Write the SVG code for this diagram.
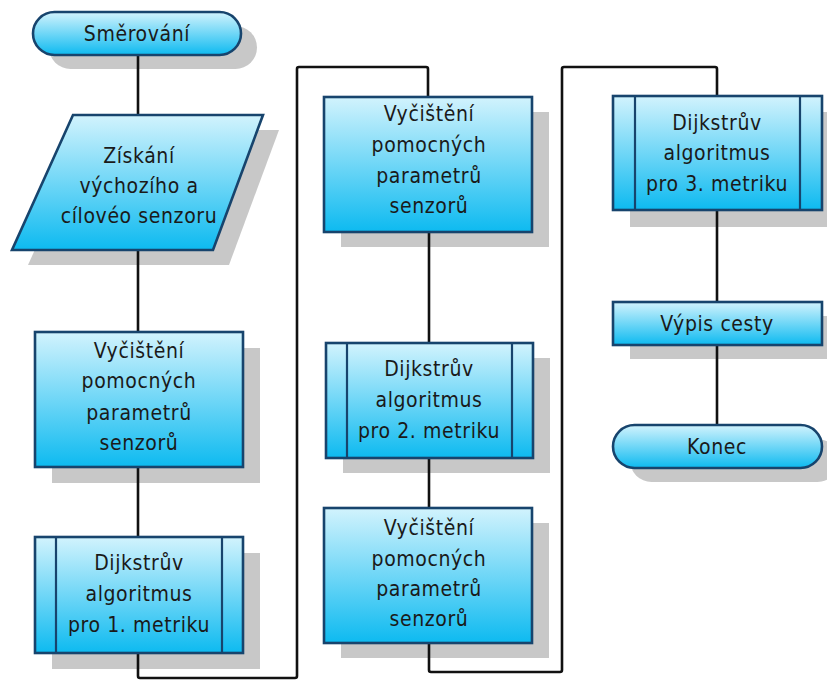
<svg xmlns="http://www.w3.org/2000/svg" width="827" height="680" viewBox="0 0 827 680">
<defs>
<linearGradient id="g" x1="0" y1="0" x2="0" y2="1">
<stop offset="0" stop-color="#d2f3fd"/>
<stop offset="1" stop-color="#0dbaf0"/>
</linearGradient>
<style>
.sh{fill:#c8c8c8;stroke:none}
.n{fill:url(#g);stroke:#17446d;stroke-width:2.6}
.b{fill:none;stroke:#17446d;stroke-width:2.2}
.t{font-family:"DejaVu Sans Condensed","Liberation Sans",sans-serif;font-size:21px;fill:#1a1a1a;text-anchor:middle;letter-spacing:0.6px}
.c{fill:none;stroke:#111;stroke-width:2.6;stroke-linejoin:round}
</style>
</defs>
<rect width="827" height="680" fill="#fff"/>
<g id="shadows">
<rect class="sh" x="49" y="26" width="208" height="43" rx="21.5"/>
<polygon class="sh" points="89,130 279,130 229,265 28,265"/>
<rect class="sh" x="52" y="348" width="208" height="135"/>
<rect class="sh" x="52" y="553" width="208" height="116"/>
<rect class="sh" x="341" y="112" width="208" height="135"/>
<rect class="sh" x="343" y="358" width="207" height="115"/>
<rect class="sh" x="341" y="523" width="208" height="135"/>
<rect class="sh" x="630" y="112" width="209" height="115"/>
<rect class="sh" x="630" y="316" width="209" height="43"/>
<rect class="sh" x="630" y="439" width="209" height="43" rx="21.5"/>
</g>
<g id="connectors">
<path class="c" d="M138,55V115"/>
<path class="c" d="M138,250V332"/>
<path class="c" d="M138,467V537"/>
<path class="c" d="M138,653V676Q138,678 140,678H295Q297,678 297,676V69Q297,67 299,67H426Q428,67 428,69V97"/>
<path class="c" d="M429,232V343"/>
<path class="c" d="M429,458V508"/>
<path class="c" d="M429,643V670Q429,672 431,672H560Q562,672 562,670V69Q562,67 564,67H715Q717,67 717,69V96"/>
<path class="c" d="M717,210V302"/>
<path class="c" d="M717,345V425"/>
</g>
<g id="smerovani">
<rect class="n" x="33" y="12" width="208" height="43" rx="21.5"/>
<text class="t" x="137" y="41">Směrování</text>
</g>
<g id="ziskani">
<polygon class="n" points="73,115 263,115 213,250 12,250"/>
<text class="t" x="139" y="163">Získání</text>
<text class="t" x="139" y="193">výchozího a</text>
<text class="t" x="139" y="223">cílovéo senzoru</text>
</g>
<g id="vycisteni1">
<rect class="n" x="35" y="332" width="208" height="135"/>
<text class="t" x="139" y="358">Vyčištění</text>
<text class="t" x="139" y="388">pomocných</text>
<text class="t" x="139" y="420">parametrů</text>
<text class="t" x="139" y="450">senzorů</text>
</g>
<g id="dijkstra1">
<rect class="n" x="35" y="537" width="208" height="116"/>
<path class="b" d="M56,537V653M222,537V653"/>
<text class="t" x="139" y="570">Dijkstrův</text>
<text class="t" x="139" y="601">algoritmus</text>
<text class="t" x="139" y="632">pro 1. metriku</text>
</g>
<g id="vycisteni2">
<rect class="n" x="324" y="97" width="208" height="135"/>
<text class="t" x="429" y="121">Vyčištění</text>
<text class="t" x="429" y="152">pomocných</text>
<text class="t" x="429" y="183">parametrů</text>
<text class="t" x="429" y="213">senzorů</text>
</g>
<g id="dijkstra2">
<rect class="n" x="326" y="343" width="207" height="115"/>
<path class="b" d="M347,343V458M512,343V458"/>
<text class="t" x="429" y="376">Dijkstrův</text>
<text class="t" x="429" y="407">algoritmus</text>
<text class="t" x="429" y="438">pro 2. metriku</text>
</g>
<g id="vycisteni3">
<rect class="n" x="324" y="508" width="208" height="135"/>
<text class="t" x="429" y="535">Vyčištění</text>
<text class="t" x="429" y="566">pomocných</text>
<text class="t" x="429" y="596">parametrů</text>
<text class="t" x="429" y="626">senzorů</text>
</g>
<g id="dijkstra3">
<rect class="n" x="613" y="96" width="209" height="114"/>
<path class="b" d="M635,96V210M800,96V210"/>
<text class="t" x="717" y="130">Dijkstrův</text>
<text class="t" x="717" y="160">algoritmus</text>
<text class="t" x="717" y="191">pro 3. metriku</text>
</g>
<g id="vypis">
<rect class="n" x="613" y="302" width="209" height="43"/>
<text class="t" x="717" y="331">Výpis cesty</text>
</g>
<g id="konec">
<rect class="n" x="613" y="425" width="209" height="43" rx="21.5"/>
<text class="t" x="717" y="454">Konec</text>
</g>
</svg>
